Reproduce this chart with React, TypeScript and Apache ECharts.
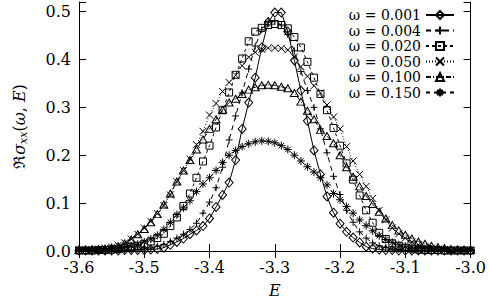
import React, { useEffect, useRef } from 'react';
import * as echarts from 'echarts';

// Energy grid (E)
const E = [
  -3.60, -3.59, -3.58, -3.57, -3.56, -3.55, -3.54, -3.53, -3.52, -3.51,
  -3.50, -3.49, -3.48, -3.47, -3.46, -3.45, -3.44, -3.43, -3.42, -3.41,
  -3.40, -3.39, -3.38, -3.37, -3.36, -3.35, -3.34, -3.33, -3.32, -3.31,
  -3.30, -3.29, -3.28, -3.27, -3.26, -3.25, -3.24, -3.23, -3.22, -3.21,
  -3.20, -3.19, -3.18, -3.17, -3.16, -3.15, -3.14, -3.13, -3.12, -3.11,
  -3.10, -3.09, -3.08, -3.07, -3.06, -3.05, -3.04, -3.03, -3.02, -3.01,
  -3.00,
];

const OMEGAS = ['0.001', '0.004', '0.020', '0.050', '0.100', '0.150'];

const W001 = [
  0.001, 0.001, 0.001, 0.001, 0.001, 0.001, 0.001, 0.002, 0.002, 0.002,
  0.002, 0.003, 0.004, 0.007, 0.013, 0.019, 0.026, 0.035, 0.043, 0.052,
  0.068, 0.092, 0.117, 0.143, 0.190, 0.255, 0.310, 0.362, 0.425, 0.478,
  0.498, 0.498, 0.458, 0.398, 0.335, 0.272, 0.210, 0.160, 0.114, 0.080,
  0.057, 0.040, 0.028, 0.018, 0.009, 0.005, 0.003, 0.002, 0.002, 0.001,
  0.001, 0.001, 0.001, 0.001, 0.001, 0.001, 0.001, 0.001, 0.001, 0.001,
  0.001,
];

const W004 = [
  0.001, 0.001, 0.001, 0.001, 0.001, 0.001, 0.002, 0.002, 0.002, 0.003,
  0.004, 0.006, 0.010, 0.014, 0.020, 0.027, 0.035, 0.045, 0.058, 0.079,
  0.102, 0.132, 0.175, 0.232, 0.282, 0.330, 0.380, 0.428, 0.462, 0.478,
  0.480, 0.472, 0.452, 0.418, 0.375, 0.335, 0.300, 0.255, 0.205, 0.156,
  0.118, 0.085, 0.060, 0.040, 0.027, 0.017, 0.011, 0.007, 0.004, 0.003,
  0.002, 0.002, 0.001, 0.001, 0.001, 0.001, 0.001, 0.001, 0.001, 0.001,
  0.001,
];

const W020 = [
  0.001, 0.001, 0.001, 0.002, 0.002, 0.003, 0.004, 0.006, 0.008, 0.011,
  0.015, 0.020, 0.027, 0.036, 0.052, 0.070, 0.094, 0.120, 0.153, 0.187,
  0.220, 0.258, 0.294, 0.331, 0.368, 0.402, 0.438, 0.458, 0.466, 0.472,
  0.474, 0.472, 0.465, 0.447, 0.425, 0.395, 0.362, 0.328, 0.294, 0.257,
  0.220, 0.183, 0.149, 0.116, 0.085, 0.059, 0.038, 0.025, 0.016, 0.011,
  0.007, 0.005, 0.003, 0.002, 0.002, 0.002, 0.001, 0.001, 0.001, 0.001,
  0.001,
];

const W050 = [
  0.002, 0.002, 0.003, 0.004, 0.006, 0.008, 0.012, 0.017, 0.025, 0.035,
  0.048, 0.062, 0.078, 0.095, 0.117, 0.145, 0.168, 0.192, 0.222, 0.250,
  0.284, 0.308, 0.333, 0.352, 0.367, 0.387, 0.405, 0.415, 0.421, 0.424,
  0.424, 0.423, 0.420, 0.405, 0.385, 0.365, 0.345, 0.330, 0.305, 0.280,
  0.255, 0.218, 0.188, 0.160, 0.135, 0.110, 0.085, 0.065, 0.048, 0.036,
  0.027, 0.019, 0.013, 0.009, 0.006, 0.004, 0.003, 0.002, 0.001, 0.001,
  0.001,
];

const W100 = [
  0.002, 0.002, 0.003, 0.004, 0.005, 0.007, 0.010, 0.016, 0.024, 0.035,
  0.046, 0.060, 0.077, 0.097, 0.120, 0.145, 0.168, 0.190, 0.212, 0.233,
  0.255, 0.275, 0.295, 0.310, 0.318, 0.328, 0.337, 0.342, 0.346, 0.347,
  0.346, 0.343, 0.340, 0.330, 0.312, 0.293, 0.275, 0.253, 0.240, 0.225,
  0.200, 0.175, 0.155, 0.135, 0.115, 0.098, 0.082, 0.068, 0.054, 0.043,
  0.034, 0.026, 0.020, 0.015, 0.011, 0.008, 0.006, 0.004, 0.003, 0.002,
  0.002,
];

const W150 = [
  0.003, 0.003, 0.003, 0.004, 0.004, 0.005, 0.006, 0.008, 0.011, 0.014,
  0.019, 0.025, 0.033, 0.045, 0.060, 0.076, 0.090, 0.105, 0.124, 0.140,
  0.153, 0.168, 0.185, 0.200, 0.210, 0.218, 0.224, 0.228, 0.230, 0.229,
  0.226, 0.220, 0.212, 0.200, 0.188, 0.176, 0.165, 0.153, 0.138, 0.120,
  0.107, 0.093, 0.079, 0.065, 0.053, 0.042, 0.032, 0.024, 0.018, 0.013,
  0.010, 0.008, 0.006, 0.005, 0.004, 0.003, 0.003, 0.002, 0.002, 0.002,
  0.002,
];

const VALUES = [W001, W004, W020, W050, W100, W150];

const FONT = 'DejaVu Serif';
const PLUS = 'path://M0,5L10,5M5,0L5,10';
const CROSS = 'path://M0,0L10,10M10,0L0,10';
const STAR = 'path://M0,5L10,5M5,0L5,10M1.6,1.6L8.4,8.4M8.4,1.6L1.6,8.4';

const STYLES: { symbol: string; size: number | number[]; dash: any }[] = [
  { symbol: 'diamond', size: [8, 9], dash: 'solid' },
  { symbol: PLUS, size: 7, dash: [5, 4] },
  { symbol: 'rect', size: 7, dash: [3, 3] },
  { symbol: CROSS, size: 7, dash: [1, 2] },
  { symbol: 'triangle', size: [8, 7], dash: [5, 2, 1, 2] },
  { symbol: STAR, size: 8, dash: [4, 4] },
];

const fmt1 = (v: number) =>
  Math.abs(v * 10 - Math.round(v * 10)) < 1e-6 ? v.toFixed(1) : '';

export default function App() {
  const ref = useRef<HTMLDivElement>(null);
  useEffect(() => {
    if (!ref.current) return;
    const chart = echarts.init(ref.current, undefined, { renderer: 'svg' });
    const axisLine = { show: true, lineStyle: { color: '#000', width: 1 } };
    const tick = { show: true, inside: true, length: 7, lineStyle: { color: '#000', width: 1 } };
    const series = OMEGAS.map((w, i) => ({
      name: w,
      type: 'line',
      xAxisIndex: 0,
      yAxisIndex: 0,
      data: E.map((e, k) => [e, VALUES[i][k]]),
      symbol: STYLES[i].symbol,
      symbolSize: STYLES[i].size,
      showSymbol: true,
      lineStyle: { color: '#000', width: 1, type: STYLES[i].dash },
      itemStyle: { color: 'rgba(0,0,0,0)', borderColor: '#000', borderWidth: 1 },
      emphasis: { disabled: true },
      z: 2,
    }));
    chart.setOption({
      animation: false,
      backgroundColor: '#fff',
      grid: { left: 79, right: 18, top: 2, bottom: 44, containLabel: false },
      xAxis: [
        {
          type: 'value', position: 'bottom', min: -3.6, max: -3.0, interval: 0.1,
          axisLine, axisTick: tick, splitLine: { show: false },
          axisLabel: { formatter: fmt1, color: '#000', fontFamily: FONT, fontSize: 16, margin: 8 },
          name: 'E', nameLocation: 'middle', nameGap: 31,
          nameTextStyle: { fontFamily: FONT, fontStyle: 'italic', fontSize: 16, color: '#000' },
        },
        {
          type: 'value', position: 'top', min: -3.6, max: -3.0, interval: 0.1,
          axisLine, axisTick: tick, splitLine: { show: false }, axisLabel: { show: false },
        },
      ],
      yAxis: [
        {
          type: 'value', position: 'left', min: 0, max: 0.52, interval: 0.1,
          axisLine, axisTick: tick, splitLine: { show: false },
          axisLabel: { formatter: fmt1, color: '#000', fontFamily: FONT, fontSize: 16, margin: 8 },
          name: '{r|ℜ}{g|σ}{s|xx}{n|(}{g|ω}{n|, }{g|E}{n|)}',
          nameLocation: 'middle', nameGap: 50, nameRotate: 90,
          nameTextStyle: {
            fontFamily: FONT, fontSize: 16, color: '#000',
            rich: {
              r: { fontFamily: FONT, fontSize: 16, color: '#000', lineHeight: 20 },
              g: { fontFamily: FONT, fontSize: 16, fontStyle: 'italic', color: '#000', lineHeight: 20 },
              s: { fontFamily: FONT, fontSize: 11, fontStyle: 'italic', color: '#000', lineHeight: 12, verticalAlign: 'bottom', padding: [6, 0, 0, 0] },
              n: { fontFamily: FONT, fontSize: 16, color: '#000', lineHeight: 20 },
            },
          },
        },
        {
          type: 'value', position: 'right', min: 0, max: 0.52, interval: 0.1,
          axisLine, axisTick: tick, splitLine: { show: false }, axisLabel: { show: false },
        },
      ],
      legend: {
        show: true,
        orient: 'vertical',
        right: 34,
        top: 8,
        padding: 0,
        align: 'right',
        itemWidth: 28,
        itemHeight: 10,
        itemGap: 1.5,
        selectedMode: false,
        data: OMEGAS,
        formatter: (n: string) => `ω = ${n}`,
        textStyle: {
          fontFamily: FONT, fontSize: 14, color: '#000', lineHeight: 14,
        },
      },
      series,
    });
    return () => chart.dispose();
  }, []);
  return (
    <div
      ref={ref}
      style={{ position: 'absolute', left: 0, top: 0, width: 489, height: 303, background: '#fff' }}
    />
  );
}
